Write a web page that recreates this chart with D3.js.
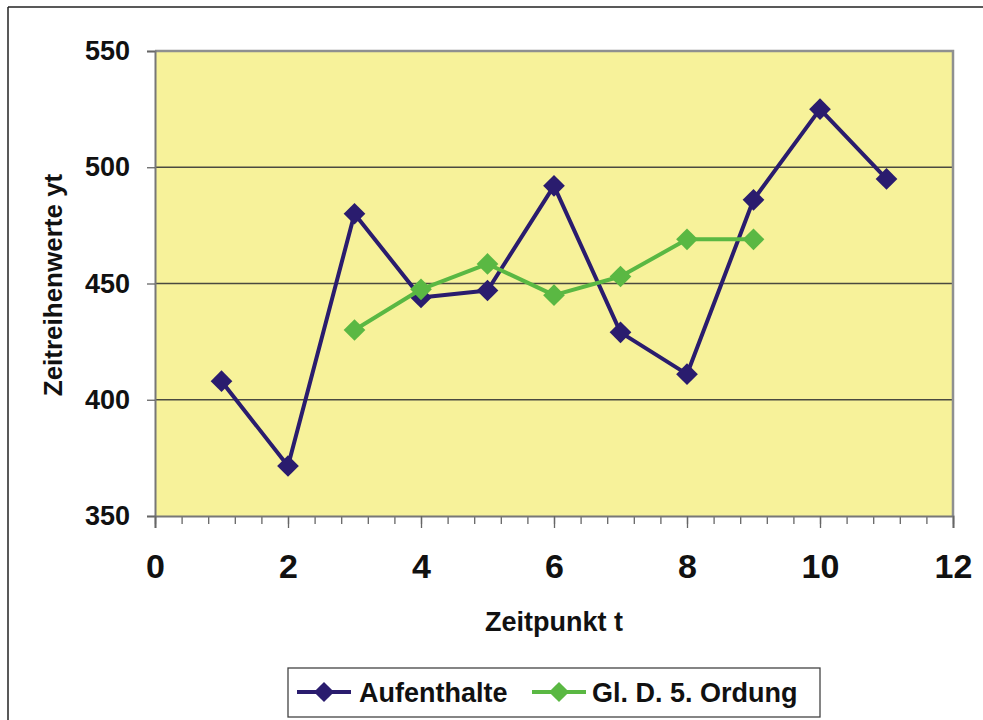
<!DOCTYPE html>
<html>
<head>
<meta charset="utf-8">
<script src="https://cdn.jsdelivr.net/npm/d3@7"></script>
<style>
  html, body { margin: 0; padding: 0; background: #ffffff; }
  svg { display: block; }
  text { font-family: "Liberation Sans", Arial, sans-serif; font-weight: bold; fill: #111; }
</style>
</head>
<body>
<script>
// Zeitreihe der Aufenthalte und gleitender Durchschnitt 5. Ordnung
const zeitpunkte = [1, 2, 3, 4, 5, 6, 7, 8, 9, 10, 11];
const aufenthalte = [408, 371.5, 480, 444, 447, 492, 429, 411, 486, 525, 495];
const glZeitpunkte = [3, 4, 5, 6, 7, 8, 9];
const glDurchschnitt = [430, 447.5, 458.4, 445, 453, 469, 469];
const xTicks = [0, 2, 4, 6, 8, 10, 12];
const yTicks = [350, 400, 450, 500, 550];
const seriesNames = ["Aufenthalte", "Gl. D. 5. Ordung"];

const W = 983, H = 720;
const plot = { left: 155, right: 953, top: 51, bottom: 516 };
const blue = "#2a1c6e", green = "#5ab843";

const svg = d3.select("body").append("svg").attr("width", W).attr("height", H);

// outer chart frame
svg.append("line").attr("x1", 8).attr("x2", W + 5).attr("y1", 7).attr("y2", 7)
  .attr("stroke", "#222").attr("stroke-width", 1.5);
svg.append("line").attr("x1", 8).attr("x2", 8).attr("y1", 7).attr("y2", H + 5)
  .attr("stroke", "#222").attr("stroke-width", 1.5);

const x = d3.scaleLinear().domain([0, 12]).range([plot.left, plot.right]);
const y = d3.scaleLinear().domain([350, 550]).range([plot.bottom, plot.top]);

// plot area background
svg.append("rect").attr("x", plot.left).attr("y", plot.top)
  .attr("width", plot.right - plot.left).attr("height", plot.bottom - plot.top)
  .attr("fill", "#f7f29a");

// horizontal gridlines
svg.append("g").selectAll("line").data(yTicks.filter(v => v > 350 && v < 550)).join("line")
  .attr("x1", plot.left).attr("x2", plot.right)
  .attr("y1", d => y(d)).attr("y2", d => y(d))
  .attr("stroke", "#4a4a40").attr("stroke-width", 1.3);

// plot area border (top and right)
svg.append("path")
  .attr("d", `M${plot.left},${plot.top}H${plot.right}V${plot.bottom}`)
  .attr("fill", "none").attr("stroke", "#8f9090").attr("stroke-width", 2.5);

// y axis
const yAxis = d3.axisLeft(y).tickValues(yTicks).tickSize(8).tickPadding(17).tickFormat(d3.format("d"));
const gy = svg.append("g").attr("transform", `translate(${plot.left},0)`).call(yAxis);
gy.select(".domain").attr("stroke", "#777").attr("stroke-width", 2);
gy.selectAll(".tick line").attr("stroke", "#666").attr("stroke-width", 1.3);
gy.selectAll(".tick text").attr("font-size", 27).attr("fill", "#111")
  .attr("font-family", "Liberation Sans, Arial, sans-serif").attr("font-weight", "bold");

// x axis: minor ticks every 0.4, major ticks every 2
const minorTicks = d3.range(0, 61).map(i => +(i * 0.2).toFixed(1)).filter((v, i) => i % 2 === 0);
const gxMinor = svg.append("g").attr("transform", `translate(0,${plot.bottom})`)
  .call(d3.axisBottom(x).tickValues(minorTicks).tickSize(8).tickFormat(""));
gxMinor.select(".domain").remove();
gxMinor.selectAll(".tick line").attr("stroke", "#666").attr("stroke-width", 1.3);

const xAxis = d3.axisBottom(x).tickValues(xTicks).tickSize(12).tickPadding(26).tickFormat(d3.format("d"));
const gx = svg.append("g").attr("transform", `translate(0,${plot.bottom})`).call(xAxis);
gx.select(".domain").attr("stroke", "#777").attr("stroke-width", 2);
gx.selectAll(".tick line").attr("stroke", "#666").attr("stroke-width", 1.3);
gx.selectAll(".tick text").attr("font-size", 34).attr("fill", "#111")
  .attr("font-family", "Liberation Sans, Arial, sans-serif").attr("font-weight", "bold");

// axis titles
svg.append("text").attr("x", 554).attr("y", 631).attr("text-anchor", "middle")
  .attr("font-size", 27).text("Zeitpunkt t");
svg.append("text").attr("transform", "translate(62,285) rotate(-90)")
  .attr("text-anchor", "middle").attr("font-size", 26).text("Zeitreihenwerte yt");

// series
const diamond = d3.symbol().type(d3.symbolDiamond2).size(300);
const line = d3.line().x(d => x(d[0])).y(d => y(d[1]));

function drawSeries(ts, vals, color) {
  const pts = ts.map((t, i) => [t, vals[i]]);
  const g = svg.append("g");
  g.append("path").datum(pts).attr("d", line)
    .attr("fill", "none").attr("stroke", color).attr("stroke-width", 4)
    .attr("stroke-linejoin", "round");
  g.selectAll("path.m").data(pts).join("path").attr("class", "m")
    .attr("d", diamond)
    .attr("transform", d => `translate(${x(d[0])},${y(d[1])})`)
    .attr("fill", color);
}
drawSeries(zeitpunkte, aufenthalte, blue);
drawSeries(glZeitpunkte, glDurchschnitt, green);

// legend
const lg = svg.append("g");
lg.append("rect").attr("x", 288).attr("y", 668).attr("width", 532).attr("height", 49)
  .attr("fill", "#fff").attr("stroke", "#444").attr("stroke-width", 1.3);
const legendItems = [
  { name: seriesNames[0], color: blue, x0: 297, x1: 351, tx: 359 },
  { name: seriesNames[1], color: green, x0: 532, x1: 586, tx: 592 }
];
legendItems.forEach(it => {
  lg.append("line").attr("x1", it.x0).attr("x2", it.x1).attr("y1", 692).attr("y2", 692)
    .attr("stroke", it.color).attr("stroke-width", 4);
  lg.append("path").attr("d", d3.symbol().type(d3.symbolDiamond2).size(260))
    .attr("transform", `translate(${(it.x0 + it.x1) / 2},692)`).attr("fill", it.color);
  lg.append("text").attr("x", it.tx).attr("y", 702).attr("font-size", 27).text(it.name);
});
</script>
</body>
</html>
